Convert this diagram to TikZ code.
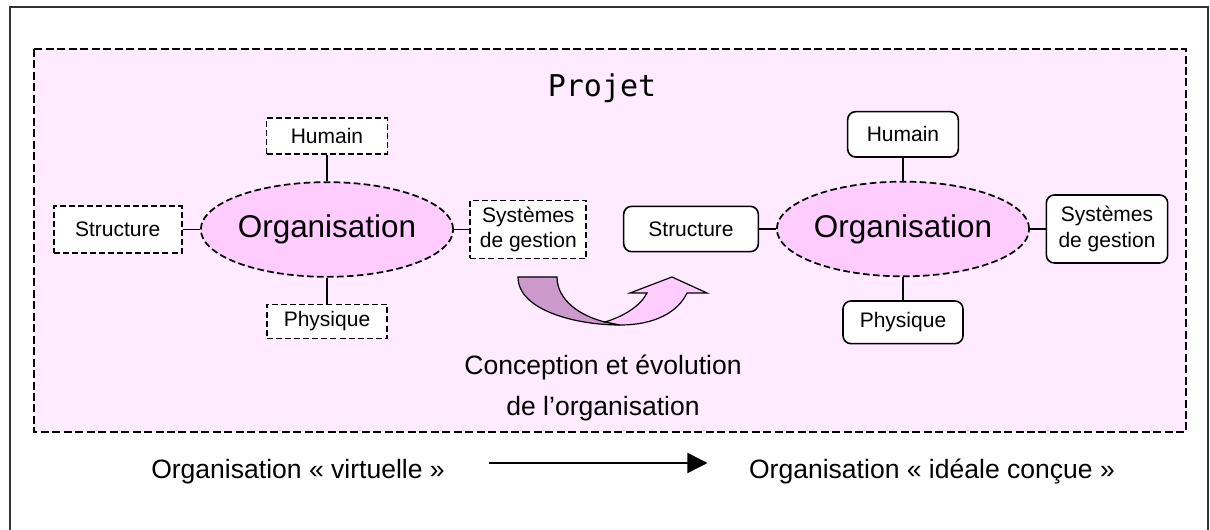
\documentclass[tikz,border=0pt]{standalone}
\usepackage{fontspec}
\setmainfont{Liberation Sans}
\newfontfamily\projetfont{DejaVu Sans Mono}
\usetikzlibrary{arrows.meta,shapes.geometric}
\definecolor{projpink}{HTML}{FFEBFF}
\definecolor{orgpink}{HTML}{FFCCFF}
\definecolor{arrowmauve}{HTML}{CC99CC}

\begin{document}
\begin{tikzpicture}[x=0.75pt, y=-0.75pt, node distance=70pt,
	every node/.style={font=\fontsize{15.75pt}{19pt}\selectfont, align=center, inner sep=0pt},
	oldbox/.style={draw=black, fill=white, line width=1.35pt, dash pattern=on 4.5pt off 2.3pt},
	newbox/.style={draw=black, fill=white, line width=1.2pt, rounded corners=6pt},
	orga/.style={ellipse, draw=black, fill=orgpink, line width=1.3pt, dash pattern=on 5pt off 2.5pt, minimum width=180pt, minimum height=71pt, font=\fontsize{23.6pt}{28pt}\selectfont},
	link/.style={line width=1.2pt},
	bigtext/.style={font=\fontsize{19.9pt}{30.75pt}\selectfont}]
	\useasboundingbox (0,0) rectangle (1210,530);
	\fill[white] (0,0) rectangle (1210,530);
	\draw[line width=1pt, black!80] (10,531) -- (10,7) -- (1208,7) -- (1208,531);
	\draw[fill=projpink, line width=1.5pt, dash pattern=on 6pt off 2.6pt] (34,49) rectangle (1186,432);
	\node (projet) at (602,88) {\projetfont\fontsize{22.5pt}{27pt}\selectfont Projet};
	% Specification of nodes (left: virtual organisation)
	\node (orgV)	[orga] at (327,229.5)	{Organisation};
	\node (humV)	[oldbox, node distance=70pt, above of=orgV, minimum width=90.75pt, minimum height=27pt]	{Humain};
	\node (phyV)	[oldbox, node distance=69pt, below of=orgV, minimum width=90pt, minimum height=25.5pt]	{Physique};
	\node (strV)	[oldbox, node distance=157pt, left of=orgV, minimum width=96pt, minimum height=35pt]	{Structure};
	\node (sysV)	[oldbox, node distance=151pt, right of=orgV, minimum width=87pt, minimum height=43.5pt]	{Systèmes\\de gestion};
	% right: designed organisation
	\node (orgC)	[orga] at (903,229)	{Organisation};
	\node (humC)	[newbox, node distance=71pt, above of=orgC, minimum width=83pt, minimum height=34pt]	{Humain};
	\node (phyC)	[newbox, node distance=70pt, below of=orgC, minimum width=90pt, minimum height=32pt]	{Physique};
	\node (strC)	[newbox, node distance=159pt, left of=orgC, minimum width=101pt, minimum height=34pt]	{Structure};
	\node (sysC)	[newbox, node distance=153pt, right of=orgC, minimum width=91pt, minimum height=51pt]	{Systèmes\\de gestion};
	\draw[link]	(humV) -- (orgV);
	\draw[link]	(phyV) -- (orgV);
	\draw[link]	(strV) -- (orgV);
	\draw[link]	(sysV) -- (orgV);
	\draw[link]	(humC) -- (orgC);
	\draw[link]	(phyC) -- (orgC);
	\draw[link]	(strC) -- (orgC);
	\draw[link]	(sysC) -- (orgC);
	% curved arrow
	\filldraw[fill=arrowmauve, draw=black, line width=0.9pt] (518,277) -- (557,277) .. controls (557,300) and (580,316) .. (605,322) -- (620,325) .. controls (575,325) and (518,310) .. (518,277) -- cycle;
	\filldraw[fill=orgpink, draw=black, line width=0.9pt] (605,322) .. controls (625,316) and (641,305) .. (647,293) -- (630,293) -- (672,277) -- (707,293) -- (687,293) .. controls (678,312) and (655,325) .. (620,325) -- cycle;
	\node (concep) [bigtext] at (603,388) {Conception et évolution\\de l’organisation};
	% bottom line
	\node (virt)	[bigtext] at (298,472)	{Organisation «~virtuelle~»};
	\node (ideal)	[bigtext] at (932,472)	{Organisation «~idéale conçue~»};
	\draw[-{Triangle[length=15pt, width=15pt]}, line width=1.2pt, shorten <=33pt, shorten >=31pt] ([yshift=6.75pt]virt.east) -- ([yshift=6.75pt]ideal.west);
\end{tikzpicture}
\end{document}
